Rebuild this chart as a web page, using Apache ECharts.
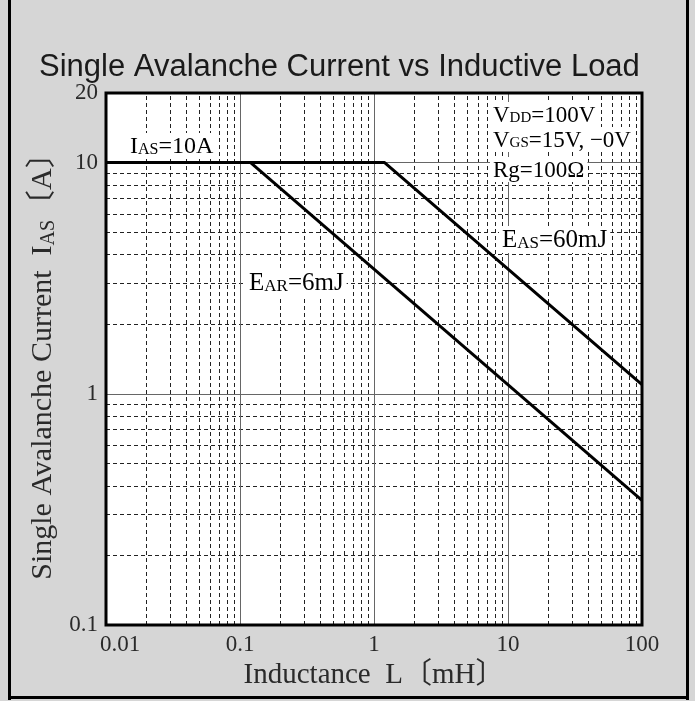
<!DOCTYPE html>
<html><head><meta charset="utf-8">
<script src="https://cdn.jsdelivr.net/npm/echarts@6/dist/echarts.min.js"></script>
<style>html,body{margin:0;padding:0;background:#d6d6d6;}#c{width:695px;height:701px;}</style>
</head><body><div id="c"></div>
<script>
// ---- data ----
const xTicks = [0.01, 0.1, 1, 10, 100];
const xTickLabels = ['0.01', '0.1', '1', '10', '100'];
const yTicks = [0.1, 1, 10, 20];
const yTickLabels = ['0.1', '1', '10', '20'];
const xMajor = [0.1, 1, 10];
const xMinor = [0.02,0.03,0.04,0.05,0.06,0.07,0.08,0.09,
                0.2,0.3,0.4,0.5,0.6,0.7,0.8,0.9,
                2,3,4,5,6,7,8,9,
                20,30,40,50,60,70,80,90];
const yMajor = [1, 10];
const yMinor = [0.2,0.3,0.4,0.5,0.6,0.7,0.8,0.9, 2,3,4,5,6,7,8,9];
// Single avalanche current curves (L [mH], I [A])
const easCurve = [[0.01, 10], [1.2, 10], [100, 1.095]];   // EAS = 60 mJ
const earCurve = [[0.12, 10], [100, 0.346]];              // EAR = 6 mJ

const SERIF = "'Liberation Serif','DejaVu Serif','Noto Sans CJK JP',serif";
const TXT = '#2a2a2a';

function labelFor(v, ticks, labels) {
  for (let i = 0; i < ticks.length; i++) {
    if (Math.abs(Math.log10(v) - Math.log10(ticks[i])) < 1e-6) return labels[i];
  }
  return '';
}

const gridMarks = []
  .concat(xMinor.map(v => ({xAxis: v, lineStyle: {type: [4, 3], color: '#222', width: 1}})))
  .concat(yMinor.map(v => ({yAxis: v, lineStyle: {type: [4, 3], color: '#222', width: 1}})))
  .concat(xMajor.map(v => ({xAxis: v, lineStyle: {type: 'solid', color: '#666', width: 1}})))
  .concat(yMajor.map(v => ({yAxis: v, lineStyle: {type: 'solid', color: '#666', width: 1}})));

const chart = echarts.init(document.getElementById('c'), null, {renderer: 'canvas'});

function annot(left, top, text, size, subSize) {
  const big = {fontFamily: SERIF, fontSize: size, color: TXT, verticalAlign: 'bottom', lineHeight: size + 2};
  const sub = {fontFamily: SERIF, fontSize: subSize, color: TXT, verticalAlign: 'bottom', lineHeight: size + 2, padding: [0, 0, 1, 0]};
  return {
    type: 'text', left: left, top: top, z: 50,
    style: {
      text: text, rich: {b: big, s: sub},
      backgroundColor: '#fff', padding: [0, 3, 0, 3]
    }
  };
}

chart.setOption({
  animation: false,
  backgroundColor: '#d6d6d6',
  title: {
    text: 'Single Avalanche Current vs Inductive Load',
    left: 34, top: 47,
    textStyle: {fontFamily: "'Liberation Sans',Arial,sans-serif", fontSize: 31, fontWeight: 'normal', color: '#1a1a1a'}
  },
  grid: {left: 106, top: 93, width: 536, height: 532, show: true, backgroundColor: '#fff', borderWidth: 0},
  xAxis: {
    type: 'log', logBase: 10, min: 0.01, max: 100,
    axisLine: {show: false}, axisTick: {show: false}, splitLine: {show: false},
    axisLabel: {
      customValues: xTicks,
      margin: 8,
      fontFamily: SERIF, fontSize: 23, color: TXT,
      formatter: v => {
        const s = labelFor(v, xTicks, xTickLabels);
        return s === '0.01' ? '{f|' + s + '}' : s;
      },
      rich: {f: {fontFamily: SERIF, fontSize: 23, color: TXT, padding: [0, 0, 0, 28]}}
    },
    name: 'Inductance  L〔mH〕', nameLocation: 'middle', nameGap: 34,
    nameTextStyle: {fontFamily: SERIF, fontSize: 29, color: TXT}
  },
  yAxis: {
    type: 'log', logBase: 10, min: 0.1, max: 20,
    axisLine: {show: false}, axisTick: {show: false}, splitLine: {show: false},
    axisLabel: {
      customValues: yTicks,
      margin: 8,
      fontFamily: SERIF, fontSize: 23, color: TXT,
      formatter: v => labelFor(v, yTicks, yTickLabels)
    },
    name: 'Single Avalanche Current  I{s|AS}〔A〕', nameLocation: 'middle', nameGap: 45,
    nameTextStyle: {fontFamily: SERIF, fontSize: 30, color: TXT,
      rich: {s: {fontFamily: SERIF, fontSize: 20, color: TXT, verticalAlign: 'bottom'}}}
  },
  series: [
    {
      type: 'line', z: 1, data: [], silent: true, symbol: 'none',
      markLine: {silent: true, symbol: ['none', 'none'], label: {show: false}, animation: false, data: gridMarks}
    },
    {type: 'line', z: 5, data: easCurve, symbol: 'none', lineStyle: {color: '#000', width: 3}},
    {type: 'line', z: 5, data: earCurve, symbol: 'none', lineStyle: {color: '#000', width: 3}}
  ],
  graphic: [
    annot(127, 133, '{b|I}{s|AS}{b|=10A}', 24, 16),
    annot(246, 269, '{b|E}{s|AR}{b|=6mJ}', 25, 17),
    annot(499, 226, '{b|E}{s|AS}{b|=60mJ}', 25, 17),
    annot(490, 102, '{b|V}{s|DD}{b|=100V}', 23, 15),
    annot(490, 127, '{b|V}{s|GS}{b|=15V, −0V}', 23, 15),
    annot(490, 157, '{b|Rg=100Ω}', 23, 15),
    // plot frame
    {type: 'rect', z: 60, shape: {x: 106, y: 93, width: 536, height: 532}, style: {fill: null, stroke: '#000', lineWidth: 3}},
    // outer panel border (left, right, bottom)
    {type: 'rect', z: 60, shape: {x: 8, y: 0, width: 3, height: 700}, style: {fill: '#000'}},
    {type: 'rect', z: 60, shape: {x: 686, y: 0, width: 3, height: 700}, style: {fill: '#000'}},
    {type: 'rect', z: 60, shape: {x: 8, y: 696, width: 681, height: 3}, style: {fill: '#000'}}
  ]
});
</script>
</body></html>
